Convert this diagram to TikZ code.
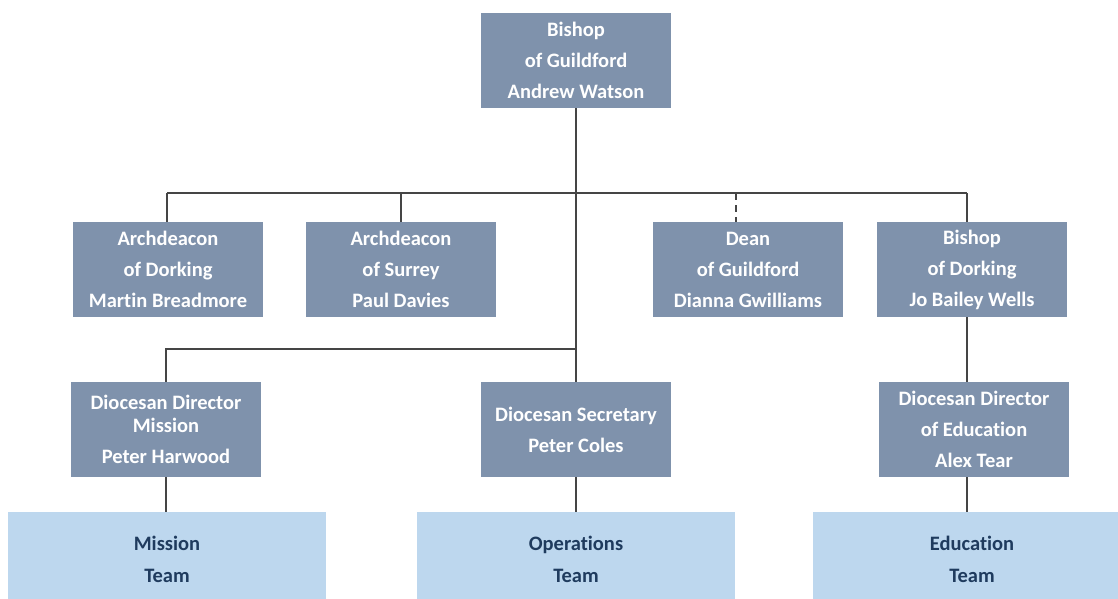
\documentclass[tikz,border=0pt]{standalone}
\usepackage{fontspec}
\setmainfont{Carlito}[Ligatures=NoCommon]
\definecolor{slate}{HTML}{7F92AC}
\definecolor{teamfill}{HTML}{BDD7EE}
\definecolor{teamtext}{HTML}{1F3B5E}
\definecolor{linegray}{HTML}{454545}
\begin{document}
\begin{tikzpicture}[x=1pt,y=-1pt,
  boss/.style={fill=slate, text=white, font=\bfseries\fontsize{20.5}{31}\selectfont,
    align=center, minimum width=190pt, minimum height=95pt, inner sep=0pt},
  teambox/.style={fill=teamfill, text=teamtext, font=\bfseries\fontsize{20.5}{32}\selectfont,
    align=center, minimum width=318pt, minimum height=95pt, inner sep=0pt},
  link/.style={draw=linegray, line width=1.8pt}]
\clip (0,0) rectangle (1118,599);
\fill[white] (0,0) rectangle (1118,599);

% nodes
\node[boss] (top) at (576,60.5) {Bishop\\of Guildford\\Andrew Watson};
\node[boss] (ad) at (168,269.5) {Archdeacon\\of Dorking\\Martin Breadmore};
\node[boss] (as) at (401,269.5) {Archdeacon\\of Surrey\\Paul Davies};
\node[boss] (dean) at (748,269.5) {Dean\\of Guildford\\Dianna Gwilliams};
\node[boss] (bd) at (972,269.5) {Bishop\\of Dorking\\Jo Bailey Wells};
\node[boss] (mis) at (166,429.5) {Diocesan Director\\[-8pt]Mission\\Peter Harwood};
\node[boss] (sec) at (576,429.5) {Diocesan Secretary\\Peter Coles};
\node[boss] (edu) at (974,429.5) {Diocesan Director\\of Education\\Alex Tear};
\node[teambox] (mt) at (167,559.5) {Mission\\Team};
\node[teambox] (ot) at (576,559.5) {Operations\\Team};
\node[teambox] (et) at (972,559.5) {Education\\Team};

% junctions
\coordinate (j1) at (576,193);
\coordinate (j2) at (576,349);
\coordinate (jl) at (167,193);
\coordinate (jr) at (967,193);

% connectors
\draw[link] (top.south) -- (sec.north);
\draw[link] (jl) -- (jr);
\draw[link] (jl) -- (ad.north -| jl);
\draw[link] (as.north |- j1) -- (as.north);
\draw[link, dashed, dash pattern=on 7pt off 5pt] ([xshift=-12pt]dean.north |- j1) -- ([xshift=-12pt]dean.north);
\draw[link] (jr) -- (bd.north -| jr);
\draw[link] (bd.south -| jr) -- (edu.north -| jr);
\draw[link] (j2) -- (mis.north |- j2) -- (mis.north);
\draw[link] (mis.south) -- (mt.north -| mis.south);
\draw[link] (sec.south) -- (ot.north);
\draw[link] (edu.south -| jr) -- (et.north -| jr);
\end{tikzpicture}
\end{document}
